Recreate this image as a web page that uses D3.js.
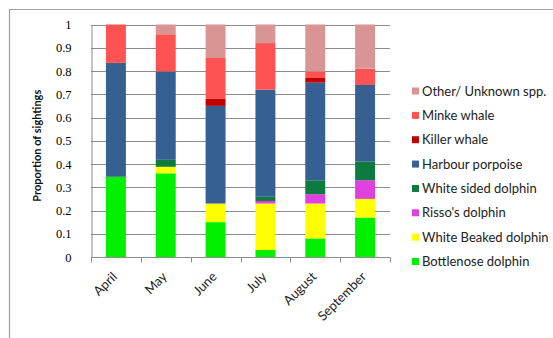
<!DOCTYPE html>
<html>
<head>
<meta charset="utf-8">
<script src="https://cdn.jsdelivr.net/npm/d3@7"></script>
<style>
  html, body { margin: 0; padding: 0; background: #fff; }
  svg { display: block; }
</style>
</head>
<body>
<svg id="chart" width="553" height="338"></svg>
<script>
// Monthly proportion of sightings by species
const months = ["April", "May", "June", "July", "August", "September"];
const species = ["Bottlenose dolphin", "White Beaked dolphin", "Risso's dolphin", "White sided dolphin",
                 "Harbour porpoise", "Killer whale", "Minke whale", "Other/ Unknown spp."];
const bottlenose      = [0.345, 0.36,  0.15,  0.03,  0.08,  0.17];
const whiteBeaked     = [0,     0.028, 0.08,  0.2,   0.15,  0.08];
const rissos          = [0,     0,     0,     0.011, 0.04,  0.08];
const whiteSided      = [0,     0.03,  0,     0.018, 0.06,  0.08];
const harbourPorpoise = [0.49,  0.38,  0.42,  0.461, 0.42,  0.33];
const killerWhale     = [0,     0,     0.03,  0,     0.02,  0];
const minkeWhale      = [0.165, 0.16,  0.176, 0.2,   0.028, 0.07];
const otherUnknown    = [0,     0.042, 0.144, 0.08,  0.202, 0.19];
const yTicks = [0, 0.1, 0.2, 0.3, 0.4, 0.5, 0.6, 0.7, 0.8, 0.9, 1];
const yTickLabels = ["0", "0.1", "0.2", "0.3", "0.4", "0.5", "0.6", "0.7", "0.8", "0.9", "1"];
const colors = ["#00f000", "#ffff00", "#e040e0", "#0d7a3e", "#365f92", "#c00000", "#ff5252", "#d99594"];

const seriesValues = [bottlenose, whiteBeaked, rissos, whiteSided, harbourPorpoise, killerWhale, minkeWhale, otherUnknown];
const table = months.map((m, i) => {
  const row = { month: m };
  species.forEach((s, k) => { row[s] = seriesValues[k][i]; });
  return row;
});
const stacked = d3.stack().keys(species)(table);

const svg = d3.select("#chart");

// Outer frame
svg.append("path")
  .attr("d", "M9.5,338 V9.5 H553")
  .attr("fill", "none")
  .attr("stroke", "#a0a0a0")
  .attr("stroke-width", 1.2);

const plot = { left: 91, right: 390, top: 24.5, bottom: 257 };
const x = d3.scaleBand().domain(months).range([plot.left, plot.right]).paddingInner(0.6).paddingOuter(0.3);
const xStep = d3.scaleBand().domain(months).range([plot.left, plot.right]);
const y = d3.scaleLinear().domain([0, 1]).range([plot.bottom, plot.top]);

// Horizontal gridlines
svg.append("g")
  .selectAll("line")
  .data(yTicks.slice(1))
  .join("line")
  .attr("x1", plot.left).attr("x2", plot.right)
  .attr("y1", d => Math.round(y(d)) + 0.5).attr("y2", d => Math.round(y(d)) + 0.5)
  .attr("stroke", "#8c8c8c").attr("stroke-width", 1);

// Stacked bars
svg.append("g")
  .selectAll("g")
  .data(stacked)
  .join("g")
  .attr("fill", (d, i) => colors[i])
  .selectAll("rect")
  .data(d => d.filter(p => p[1] - p[0] > 0))
  .join("rect")
  .attr("x", d => x(d.data.month))
  .attr("width", x.bandwidth())
  .attr("y", d => y(d[1]))
  .attr("height", d => y(d[0]) - y(d[1]));

// Y axis
const yAxis = d3.axisLeft(y).tickValues(yTicks).tickFormat((d, i) => yTickLabels[i]).tickSize(0).tickPadding(20);
const gy = svg.append("g").attr("transform", `translate(${plot.left + 0.5},0)`).call(yAxis);
gy.select(".domain").attr("stroke", "#8c8c8c");
gy.selectAll("text")
  .attr("font-family", "'Liberation Serif', serif")
  .attr("font-size", 12.5)
  .attr("fill", "#000");

// X axis with tick marks between categories
const gx = svg.append("g").attr("transform", `translate(0,${Math.round(plot.bottom) + 0.5})`);
gx.append("line").attr("x1", plot.left).attr("x2", plot.right).attr("stroke", "#8c8c8c");
const boundaries = months.map(m => xStep(m)).concat([plot.right]);
gx.selectAll("line.tick")
  .data(boundaries)
  .join("line")
  .attr("class", "tick")
  .attr("x1", d => Math.round(d) + 0.5).attr("x2", d => Math.round(d) + 0.5)
  .attr("y1", 0).attr("y2", 5)
  .attr("stroke", "#8c8c8c");
gx.selectAll("text")
  .data(months)
  .join("text")
  .attr("transform", d => `translate(${x(d) + x.bandwidth() / 2 + 2},${20}) rotate(-45)`)
  .attr("text-anchor", "end")
  .attr("font-family", "Lato, sans-serif")
  .attr("font-size", 13)
  .attr("fill", "#222")
  .text(d => d);

// Y axis title
svg.append("text")
  .attr("transform", `translate(41,${(plot.top + plot.bottom) / 2 + 5}) rotate(-90)`)
  .attr("text-anchor", "middle")
  .attr("font-family", "Lato, sans-serif")
  .attr("font-weight", "bold")
  .attr("font-size", 11)
  .attr("fill", "#111")
  .text("Proportion of sightings");

// Legend (top-down order is the reverse of the stacking order)
const legendOrder = species.map((s, i) => ({ name: s, color: colors[i] })).reverse();
const ly = d3.scalePoint().domain(legendOrder.map(d => d.name)).range([91, 261.5]);
const legend = svg.append("g")
  .selectAll("g")
  .data(legendOrder)
  .join("g")
  .attr("transform", d => `translate(412,${ly(d.name)})`);
legend.append("rect")
  .attr("x", 0).attr("y", -3.5).attr("width", 7).attr("height", 7)
  .attr("fill", d => d.color);
legend.append("text")
  .attr("x", 10).attr("y", 0).attr("dy", "0.35em")
  .attr("font-family", "Lato, sans-serif")
  .attr("font-size", 13)
  .attr("fill", "#222")
  .text(d => d.name);
</script>
</body>
</html>
